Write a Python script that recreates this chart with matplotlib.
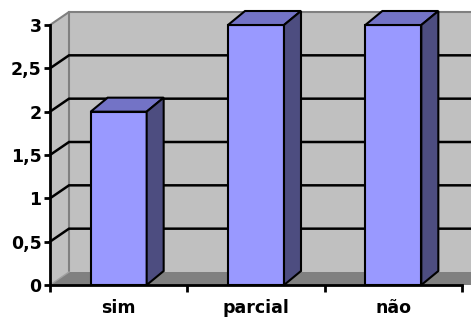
import matplotlib
matplotlib.use("Agg")
import matplotlib.pyplot as plt
from matplotlib.patches import Polygon

categories = ["sim", "parcial", "não"]
values = [2, 3, 3]
yticks = [0, 0.5, 1, 1.5, 2, 2.5, 3]
ytick_labels = ["0", "0,5", "1", "1,5", "2", "2,5", "3"]

plt.rcParams["font.family"] = ["DejaVu Sans"]

W, H = 471, 320
fig = plt.figure(figsize=(W / 100, H / 100), dpi=100)
fig.patch.set_facecolor("white")
ax = fig.add_axes([50 / W, 35 / H, 412 / W, 260 / H])

n = len(categories)
ymax = 3.0
ax.set_xlim(0, n)
ax.set_ylim(0, ymax)

# depth offsets (in data units) for walls and bars
px_x = n / 412.0
px_y = ymax / 260.0
wdx, wdy = 19 * px_x, 13 * px_y
bdx, bdy = 17 * px_x, 14 * px_y

wall = "#C0C0C0"
floor_c = "#808080"
front_c = "#9999FF"
top_c = "#7373C6"
side_c = "#4D4D80"

def poly(pts, fc, ec="none", lw=0, z=1):
    p = Polygon(pts, closed=True, facecolor=fc, edgecolor=ec, linewidth=lw,
                zorder=z, clip_on=False, joinstyle="miter")
    ax.add_patch(p)

# back wall
poly([(wdx, wdy), (n + 2 * wdx, wdy), (n + 2 * wdx, ymax + wdy), (wdx, ymax + wdy)], wall, z=0.5)
# left side wall
poly([(0, 0), (wdx, wdy), (wdx, ymax + wdy), (0, ymax)], wall, z=0.6)
# floor
poly([(0, 0), (n + 2 * wdx, 0), (n + 2 * wdx, wdy), (wdx, wdy)], floor_c, z=0.7)

# wall borders
ax.plot([0, wdx, n + 2 * wdx], [ymax, ymax + wdy, ymax + wdy], color="#808080", lw=1.5, clip_on=False, zorder=0.8)
ax.plot([wdx, wdx], [wdy, ymax + wdy], color="#808080", lw=1.5, clip_on=False, zorder=0.8)
ax.plot([0, wdx], [0, wdy], color="#A0A0A0", lw=1.0, clip_on=False, zorder=0.8)

# gridlines on both walls
for v in yticks[1:-1]:
    ax.plot([0, wdx, n + 2 * wdx], [v, v + wdy, v + wdy], color="black", lw=1.8,
            clip_on=False, zorder=0.9, solid_joinstyle="miter")

# bars
bw = 56 * px_x
for i, v in enumerate(values):
    x0 = i + 0.5 - bw / 2
    x1 = x0 + bw
    poly([(x0, 0), (x1, 0), (x1, v), (x0, v)], front_c, "black", 1.5, z=3)
    poly([(x0, v), (x1, v), (x1 + bdx, v + bdy), (x0 + bdx, v + bdy)], top_c, "black", 1.5, z=3)
    poly([(x1, 0), (x1 + bdx, bdy), (x1 + bdx, v + bdy), (x1, v)], side_c, "black", 1.5, z=3)

# axes
for s in ["top", "right"]:
    ax.spines[s].set_visible(False)
for s in ["left", "bottom"]:
    ax.spines[s].set_linewidth(2)
    ax.spines[s].set_zorder(5)
ax.patch.set_visible(False)

ax.set_yticks(yticks)
ax.set_yticklabels(ytick_labels, fontsize=12.5, fontweight="bold")
ax.tick_params(axis="y", length=4, width=2, pad=2, direction="out")

ax.set_xticks(range(n + 1))
ax.set_xticklabels([])
ax.set_xticks([i + 0.5 for i in range(n)], minor=True)
ax.set_xticklabels(categories, minor=True, fontsize=12.5, fontweight="bold")
ax.tick_params(axis="x", which="major", length=5, width=2, direction="out")
ax.tick_params(axis="x", which="minor", length=0, pad=10)

fig.savefig("out.png", dpi=100)
